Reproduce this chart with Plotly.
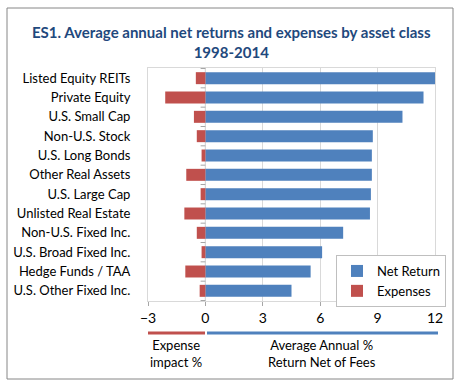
import plotly.graph_objects as go

W, H = 463, 391

categories = ["Listed Equity REITs", "Private Equity", "U.S. Small Cap", "Non-U.S. Stock",
              "U.S. Long Bonds", "Other Real Assets", "U.S. Large Cap", "Unlisted Real Estate",
              "Non-U.S. Fixed Inc.", "U.S. Broad Fixed Inc.", "Hedge Funds / TAA",
              "U.S. Other Fixed Inc."]
net_return = [12.0, 11.4, 10.3, 8.75, 8.7, 8.7, 8.65, 8.6, 7.2, 6.1, 5.5, 4.5]
expenses = [-0.5, -2.1, -0.6, -0.45, -0.2, -1.0, -0.25, -1.1, -0.45, -0.2, -1.05, -0.3]
x_ticks = [-3, 0, 3, 6, 9, 12]

BLUE = "#4F81BD"
RED = "#C0504D"
FONT = "Lato"

# plot area in pixels
PL, PR, PT, PB = 148, 435, 68, 301
def px(x):
    return x / W
def py(y):
    return 1 - y / H

fig = go.Figure()
fig.add_trace(go.Bar(y=categories, x=net_return, orientation="h", name="Net Return",
                     marker=dict(color=BLUE, line=dict(width=0)), width=0.62))
fig.add_trace(go.Bar(y=categories, x=expenses, orientation="h", name="Expenses",
                     marker=dict(color=RED, line=dict(width=0)), width=0.62))

shapes = []
# zero axis line and category boundary ticks
shapes.append(dict(type="line", xref="x", yref="paper", x0=0, x1=0,
                   y0=py(PB), y1=py(PT), line=dict(color="#A6A6A6", width=1), layer="below"))
n = len(categories)
for i in range(n + 1):
    shapes.append(dict(type="line", xref="x", yref="y", x0=-0.25, x1=0,
                       y0=i - 0.5, y1=i - 0.5, line=dict(color="#A6A6A6", width=1)))
# coloured underline bars
shapes.append(dict(type="line", xref="paper", yref="paper", x0=px(148), x1=px(205),
                   y0=py(333), y1=py(333), line=dict(color=RED, width=3)))
shapes.append(dict(type="line", xref="paper", yref="paper", x0=px(207), x1=px(438),
                   y0=py(333), y1=py(333), line=dict(color=BLUE, width=3)))
# outer frame
shapes.append(dict(type="rect", xref="paper", yref="paper", x0=px(7), x1=px(453),
                   y0=py(379), y1=py(8), line=dict(color="#868686", width=1)))

annotations = [
    dict(text="<b>ES1. Average annual net returns and expenses by asset class<br>1998-2014</b>",
         xref="paper", yref="paper", x=px(231), y=py(42), xanchor="center", yanchor="middle",
         showarrow=False, font=dict(family=FONT, size=15, color="#1F497D"), align="center"),
    dict(text="Expense<br>impact %", xref="paper", yref="paper", x=px(176), y=py(353),
         xanchor="center", yanchor="middle",
         showarrow=False, font=dict(family=FONT, size=13, color="#000000"), align="center"),
    dict(text="Average Annual %<br>Return Net of Fees", xref="paper", yref="paper", x=px(322),
         y=py(353), xanchor="center", yanchor="middle",
         showarrow=False, font=dict(family=FONT, size=13, color="#000000"), align="center"),
]

fig.update_layout(
    width=W, height=H,
    margin=dict(l=0, r=0, t=0, b=0, autoexpand=False),
    paper_bgcolor="white", plot_bgcolor="white",
    barmode="overlay",
    showlegend=True,
    legend=dict(x=px(336), y=py(255), xanchor="left", yanchor="top",
                bgcolor="white", bordercolor="#BFBFBF", borderwidth=1,
                font=dict(family=FONT, size=13, color="#000000"),
                traceorder="normal", itemwidth=30),
    xaxis=dict(domain=[px(PL), px(PR)], range=[-3, 12], tickvals=x_ticks,
               showgrid=True, gridcolor="#D9D9D9", gridwidth=1, zeroline=False,
               showline=True, linecolor="#D9D9D9", mirror=True, automargin=False,
               ticks="outside", ticklen=4, tickcolor="#A6A6A6",
               tickfont=dict(family=FONT, size=14, color="#000000"), fixedrange=True),
    yaxis=dict(domain=[py(PB), py(PT)], categoryorder="array", categoryarray=categories,
               autorange="reversed", showgrid=False, zeroline=False, automargin=False,
               showline=True, linecolor="#D9D9D9", mirror=True, ticks="",
               ticklabelstandoff=14,
               tickfont=dict(family=FONT, size=13, color="#000000"), fixedrange=True),
    shapes=shapes,
    annotations=annotations,
    font=dict(family=FONT),
)

fig.write_html("out.html", config={"displayModeBar": False},
               post_script="document.body.style.margin='0';document.body.style.padding='0';")
